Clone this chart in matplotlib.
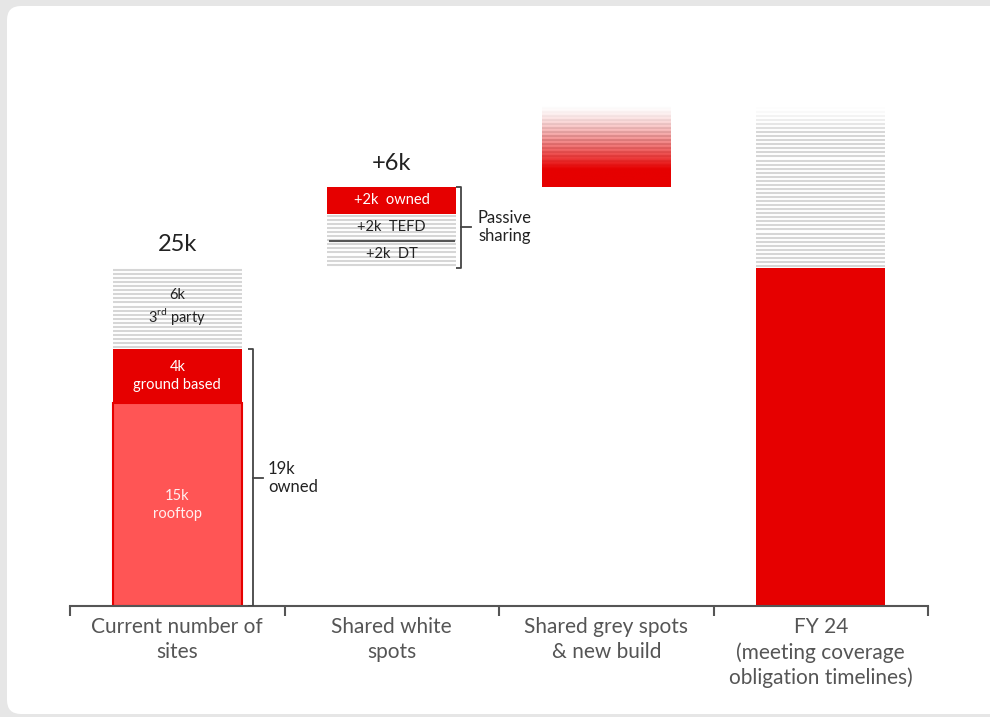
import numpy as np
import matplotlib
matplotlib.use("Agg")
import matplotlib.pyplot as plt
from matplotlib.patches import FancyBboxPatch
from matplotlib.colors import to_rgba

plt.rcParams['font.family'] = ['Lato', 'DejaVu Sans']

# ---- data (thousands of sites) ----
categories = ["Current number of\nsites", "Shared white\nspots",
              "Shared grey spots\n& new build",
              "FY 24\n(meeting coverage\nobligation timelines)"]
current_rooftop = 15
current_ground = 4
current_third_party = 6
current_total = 25
owned_total = 19
white_owned = 2
white_tefd = 2
white_dt = 2
white_total = 6
grey_new_build = 6
fy24_solid = 25
fy24_target = 37

# ---- style ----
RED = '#e60000'
LIGHT_RED = '#ff5555'
STRIPE = '#d6d6d6'
INK = '#222222'
AXIS_GREY = '#555555'
BAR_W = 0.6
STEP = 0.3          # stripe pitch in data units

W, H = 990, 717
fig = plt.figure(figsize=(W / 100, H / 100), dpi=100, facecolor='#e6e6e6')

# white rounded card behind the chart
bg = fig.add_axes([0, 0, 1, 1])
bg.set_xlim(0, W)
bg.set_ylim(H, 0)
bg.axis('off')
bg.add_patch(FancyBboxPatch((7, 6), W + 40, H - 9,
                            boxstyle="round,pad=0,rounding_size=14",
                            facecolor='white', edgecolor='none'))

ax = fig.add_axes([70 / W, (H - 606) / H, 858 / W, 541 / H])
ax.set_facecolor('none')
xc = np.arange(len(categories)) + 0.5


def stripes(x, y0, y1, fade=0.0):
    """Grey horizontal pin-stripes between y0 and y1, optionally fading at the top."""
    ys = np.arange(y1 - STEP / 2, y0, -STEP)
    base = np.array(to_rgba(STRIPE))
    cols = np.tile(base, (len(ys), 1))
    if fade > 0:
        a = np.clip((y1 - ys) / fade, 0.05, 1.0) ** 1.3
        cols[:, 3] = a
    ax.hlines(ys, x - BAR_W / 2, x + BAR_W / 2, colors=cols, linewidth=1.5,
              zorder=2)


def bracket(x, y0, y1, label, text_x):
    ax.plot([x - 0.025, x, x, x - 0.025], [y1, y1, y0, y0],
            color='#444444', lw=1.3, solid_capstyle='butt', zorder=3)
    ym = (y0 + y1) / 2
    ax.plot([x, x + 0.045], [ym, ym], color='#444444', lw=1.3, zorder=3)
    ax.text(text_x, ym, label, ha='left', va='center', fontsize=12,
            color=INK, linespacing=1.15)


# --- current number of sites ---
ax.bar(xc[0], current_rooftop, BAR_W, color=LIGHT_RED, edgecolor=RED,
       linewidth=1.5, zorder=2)
ax.bar(xc[0], current_ground, BAR_W, bottom=current_rooftop, color=RED,
       linewidth=0, zorder=2)
stripes(xc[0], current_rooftop + current_ground, current_total)
ax.text(xc[0], current_rooftop / 2, "15k\nrooftop", ha='center', va='center',
        fontsize=10.5, color='#fff0f0', linespacing=1.35)
ax.text(xc[0], current_rooftop + current_ground / 2, "4k\nground based",
        ha='center', va='center', fontsize=10.5, color='white',
        linespacing=1.35)
ax.text(xc[0], owned_total + current_third_party / 2 + 0.1,
        "6k\n3$^{\\mathregular{rd}}$ party", ha='center', va='center',
        fontsize=10.5, color=INK, linespacing=1.25)
ax.text(xc[0], current_total + 1.75, "25k", ha='center', va='center',
        fontsize=17, color=INK)
bracket(xc[0] + BAR_W / 2 + 0.053, 0, owned_total, "19k\nowned",
        xc[0] + BAR_W / 2 + 0.123)

# --- shared white spots ---
w_base = current_total
stripes(xc[1], w_base, w_base + white_dt + white_tefd)
ax.bar(xc[1], white_owned, BAR_W, bottom=w_base + white_dt + white_tefd,
       color=RED, linewidth=0, zorder=2)
ax.plot([xc[1] - BAR_W / 2 + 0.01, xc[1] + BAR_W / 2 - 0.01],
        [w_base + white_dt] * 2, color=AXIS_GREY, lw=1.5, zorder=3)
ax.text(xc[1], w_base + white_dt / 2, "+2k  DT", ha='center', va='center',
        fontsize=10.5, color=INK)
ax.text(xc[1], w_base + white_dt + white_tefd / 2, "+2k  TEFD", ha='center',
        va='center', fontsize=10.5, color=INK)
ax.text(xc[1], w_base + white_dt + white_tefd + white_owned / 2, "+2k  owned",
        ha='center', va='center', fontsize=10.5, color='white')
ax.text(xc[1], w_base + white_total + 1.75, "+6k", ha='center', va='center',
        fontsize=17, color=INK)
bracket(xc[1] + BAR_W / 2 + 0.023, w_base, w_base + white_total,
        "Passive\nsharing", xc[1] + BAR_W / 2 + 0.102)

# --- shared grey spots & new build (fading estimate) ---
g_base = current_total + white_total
g_top = g_base + grey_new_build
stripes(xc[2], g_base, g_top, fade=2.5)
n = 200
u = np.linspace(1, 0, n)            # 1 at bottom row, 0 at top row
alpha = np.clip(u / 0.78, 0, 1) ** 1.4
grad = np.zeros((n, 1, 4))
grad[..., :3] = to_rgba(RED)[:3]
grad[:, 0, 3] = alpha
ax.imshow(grad, extent=(xc[2] - BAR_W / 2, xc[2] + BAR_W / 2, g_base, g_top),
          origin='lower', aspect='auto', interpolation='bilinear', zorder=2.5)

# --- FY 24 ---
ax.bar(xc[3], fy24_solid, BAR_W, color=RED, linewidth=0, zorder=2)
stripes(xc[3], fy24_solid, fy24_target, fade=2.0)

# --- axes ---
ax.set_xlim(0, 4)
ax.set_ylim(0, 541 / 13.52)
for s in ('top', 'left', 'right'):
    ax.spines[s].set_visible(False)
ax.spines['bottom'].set_color(AXIS_GREY)
ax.spines['bottom'].set_linewidth(1.5)
ax.set_yticks([])
ax.set_xticks(np.arange(0, 5))
ax.set_xticklabels([])
ax.tick_params(axis='x', which='major', length=7, width=1.5,
               color=AXIS_GREY, direction='out')
ax.set_xticks(xc, minor=True)
ax.set_xticklabels(categories, minor=True, fontsize=15, color=AXIS_GREY,
                   linespacing=1.3)
ax.tick_params(axis='x', which='minor', length=0, pad=8)

fig.savefig("out.png", dpi=100, facecolor=fig.get_facecolor())
